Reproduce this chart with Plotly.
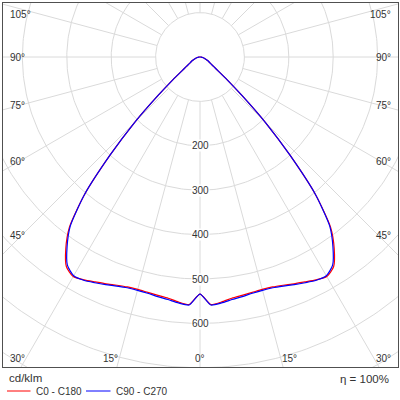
import numpy as np
import plotly.graph_objects as go

# luminous intensity (cd/klm) against gamma angle from nadir, both halves symmetric
GAMMA = [0, 2.5, 5, 7.5, 10, 12.5, 15, 17.5, 20, 22.5, 25, 27.5, 30, 32.5, 35, 37.5,
         40, 42.5, 45, 47.5, 50, 52.5, 55, 57.5, 60, 65, 70, 75, 80, 85, 90]
I_C0_C180 = [534, 558, 554, 548, 545, 543, 542, 543, 547, 553, 559, 566, 571, 560, 527, 483,
             405, 300, 208, 128, 80, 52, 38, 30, 25, 19, 13, 9, 6, 3, 1]
I_C90_C270 = [534, 559, 556, 551, 548, 545, 544, 545, 549, 555, 561, 567, 569, 556, 522, 480,
              405, 300, 208, 128, 80, 52, 38, 30, 25, 19, 13, 9, 6, 3, 1]

RINGS = [100, 200, 300, 400, 500, 600, 700, 800, 900]
RING_LABELS = [200, 300, 400, 500, 600]
SPOKES = list(range(0, 360, 15))

# angle tick labels: (text, pixel x, pixel y, anchor)
ANGLE_TICKS = [
    ("105°", 7.5, 15, "left"), ("90°", 7.5, 57, "left"), ("75°", 7.5, 105, "left"),
    ("60°", 7.5, 161, "left"), ("45°", 7.5, 236, "left"), ("30°", 17.5, 358, "center"),
    ("15°", 110, 358, "center"), ("0°", 200, 358, "center"), ("15°", 289, 358, "center"),
    ("30°", 383, 358, "center"), ("45°", 392.5, 236, "right"), ("60°", 392.5, 161, "right"),
    ("75°", 392.5, 105, "right"), ("90°", 392.5, 57, "right"), ("105°", 392.5, 15, "right"),
]

W, H = 400, 400
PLOT_L, PLOT_R, PLOT_T, PLOT_B = 3, 398, 3, 367
CX, CY = 200, 57          # pixel position of the luminaire
PX_PER_UNIT = 0.444       # pixels per cd/klm

GRID = "#dadada"
TEXT = "#333333"
FONT = "Liberation Sans, Arial, sans-serif"


def to_paper(px, py):
    return (px - PLOT_L) / (PLOT_R - PLOT_L), (PLOT_B - py) / (PLOT_B - PLOT_T)


def curve_xy(gamma, intensity):
    g = np.radians(gamma)
    r = np.asarray(intensity, dtype=float)
    x = np.concatenate([-(r * np.sin(g))[::-1], (r * np.sin(g))[1:]])
    y = np.concatenate([-(r * np.cos(g))[::-1], -(r * np.cos(g))[1:]])
    return np.append(x, x[0]), np.append(y, y[0])


fig = go.Figure()

# rings
t = np.linspace(0, 2 * np.pi, 361)
rx, ry = [], []
for r in RINGS:
    rx += list(r * np.cos(t)) + [None]
    ry += list(r * np.sin(t)) + [None]
fig.add_trace(go.Scatter(x=rx, y=ry, mode="lines", line=dict(color=GRID, width=1),
                         hoverinfo="skip", showlegend=False))

# spokes, starting at the innermost ring
sx, sy = [], []
for a in SPOKES:
    ar = np.radians(a)
    sx += [RINGS[0] * np.sin(ar), 1200 * np.sin(ar), None]
    sy += [-RINGS[0] * np.cos(ar), -1200 * np.cos(ar), None]
fig.add_trace(go.Scatter(x=sx, y=sy, mode="lines", line=dict(color=GRID, width=1),
                         hoverinfo="skip", showlegend=False))

for name, vals, color in [("C0 - C180", I_C0_C180, "#ff0000"),
                          ("C90 - C270", I_C90_C270, "#0000ff")]:
    x, y = curve_xy(GAMMA, vals)
    fig.add_trace(go.Scatter(x=x, y=y, mode="lines", name=name,
                             line=dict(color=color, width=1.2, shape="spline", smoothing=0.6),
                             showlegend=False))

# ring labels along the nadir line
for r in RING_LABELS:
    fig.add_annotation(x=0, y=-r, text=str(r), showarrow=False, bgcolor="white",
                       borderpad=0, font=dict(size=10, color=TEXT, family=FONT))

for text, px, py, anchor in ANGLE_TICKS:
    ax, ay = to_paper(px, py)
    fig.add_annotation(x=ax, y=ay, xref="paper", yref="paper", text=text, showarrow=False,
                       xanchor=anchor, yanchor="middle",
                       font=dict(size=10, color=TEXT, family=FONT))

# legend block below the frame
for text, px, py, anchor, size in [("cd/klm", 7, 378, "left", 11.5),
                                   ("C0 - C180", 34, 391, "left", 10),
                                   ("C90 - C270", 114, 391, "left", 10),
                                   ("η = 100%", 391, 379, "right", 11.5)]:
    ax, ay = to_paper(px, py)
    fig.add_annotation(x=ax, y=ay, xref="paper", yref="paper", text=text, showarrow=False,
                       xanchor=anchor, yanchor="middle",
                       font=dict(size=size, color=TEXT, family=FONT))

for color, x0, x1 in [("#ff0000", 7, 30.5), ("#0000ff", 86, 110.5)]:
    p0, py = to_paper(x0, 391)
    p1, _ = to_paper(x1, 391)
    fig.add_shape(type="line", xref="paper", yref="paper", x0=p0, x1=p1, y0=py, y1=py,
                  line=dict(color=color, width=1))

xr = [(PLOT_L - CX) / PX_PER_UNIT, (PLOT_R - CX) / PX_PER_UNIT]
yr = [(CY - PLOT_B) / PX_PER_UNIT, (CY - PLOT_T) / PX_PER_UNIT]
axis = dict(showgrid=False, zeroline=False, showticklabels=False, ticks="",
            showline=True, mirror=True, linecolor="#505050", linewidth=1)
fig.update_xaxes(range=xr, **axis)
fig.update_yaxes(range=yr, **axis)

fig.update_layout(
    width=W, height=H,
    margin=dict(l=PLOT_L, r=W - PLOT_R, t=PLOT_T, b=H - PLOT_B),
    paper_bgcolor="white", plot_bgcolor="white",
    font=dict(family=FONT, color=TEXT),
)

# the page body has a default 8px margin; drop it so the chart sits at the window origin
fig.write_html("out.html", config={"displayModeBar": False},
               post_script="document.body.style.margin='0';")
